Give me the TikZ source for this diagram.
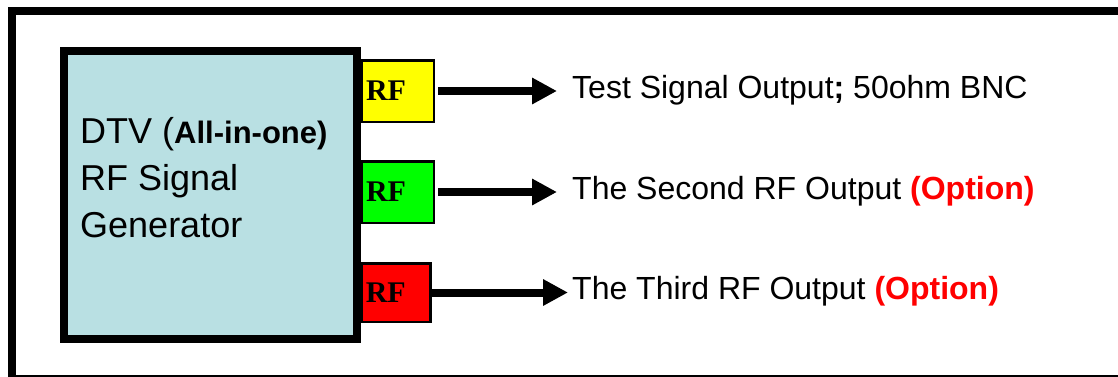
\documentclass[tikz,border=0pt]{standalone}
\usepackage{fontspec}
\setmainfont{Liberation Sans}
\newfontfamily\rffont{Liberation Serif}
\usetikzlibrary{arrows.meta}
\definecolor{genblue}{RGB}{185,224,227}
\definecolor{rfyellow}{RGB}{255,255,0}
\definecolor{rfgreen}{RGB}{0,255,0}
\definecolor{optred}{RGB}{255,0,0}

\begin{document}
\begin{tikzpicture}[x=1pt,y=-1pt,
  genbox/.style={draw, line width=8pt, fill=genblue, minimum width=293pt, minimum height=288pt},
  rfbox/.style={draw, line width=2.5pt, fill=#1, minimum height=61.5pt, text width=64pt,
    inner xsep=4pt, align=left, font=\rffont\bfseries\fontsize{30}{30}\selectfont},
  outlabel/.style={anchor=base west, inner sep=0pt, font=\fontsize{32}{38}\selectfont},
  sigarrow/.style={line width=8pt, -{Triangle[length=25pt,width=25pt]}}]
\useasboundingbox (0,0) rectangle (1118,376);
\clip (0,0) rectangle (1118,376);
%\draw [help lines] grid (1118,376);
\draw[line width=8pt] (12,11) rectangle (1126,379);

\node[rfbox=rfyellow] (rfa) at (398,91) {RF};
\node[rfbox=rfgreen] (rfb) at (398,192) {RF};
\node[rfbox=optred, minimum width=68.5pt, text width=60.5pt, minimum height=58.5pt] (rfc) at (396,292.5) {RF};
\node[genbox] (gen) at (210.5,195) {};
\node[anchor=base west, inner sep=0pt, align=left, font=\fontsize{36}{47}\selectfont] (gentxt) at (80,237)
  {DTV ({\bfseries\fontsize{31}{47}\selectfont All-in-one)}\\RF Signal\\Generator};

\node[outlabel] (outa) at (572,98) {Test Signal Output\textbf{;} 50ohm BNC};
\node[outlabel] (outb) at (572,199) {The Second RF Output \textcolor{optred}{\bfseries(Option)}};
\node[outlabel] (outc) at (572,299) {The Third RF Output \textcolor{optred}{\bfseries(Option)}};

\draw[sigarrow, shorten <=3pt, shorten >=15pt] (rfa.east) -- (rfa.east -| outa.west);
\draw[sigarrow, shorten <=3pt, shorten >=15pt] (rfb.east) -- (rfb.east -| outb.west);
\draw[sigarrow, shorten >=4pt] (rfc.east) -- (rfc.east -| outc.west);
\end{tikzpicture}
\end{document}
